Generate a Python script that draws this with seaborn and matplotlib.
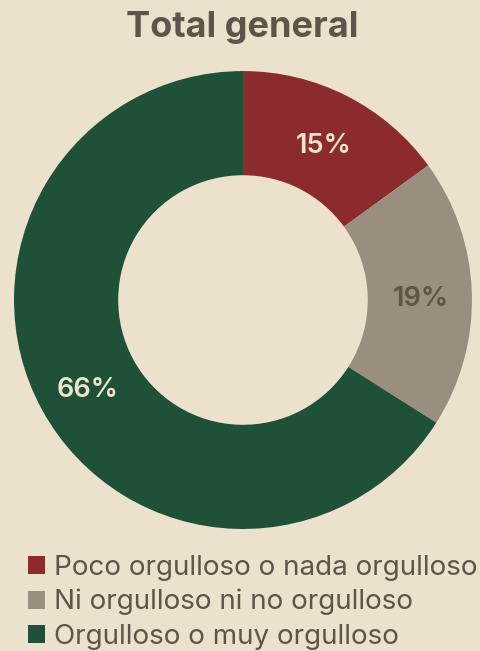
import matplotlib.pyplot as plt
import seaborn as sns
from matplotlib.patches import Patch

categories = ["Poco orgulloso o nada orgulloso", "Ni orgulloso ni no orgulloso", "Orgulloso o muy orgulloso"]
values = [15, 19, 66]
colors = ["#8B2B2E", "#9A8F7E", "#1F5138"]
label_colors = ["#EEE3CE", "#5E5548", "#EEE3CE"]

bg = "#ECE1CC"
text_color = "#5E5548"

sns.set_theme(style="white")
plt.rcParams['font.family'] = ['Inter', 'DejaVu Sans']

fig = plt.figure(figsize=(4.8, 6.51), dpi=100, facecolor=bg)
ax = fig.add_axes([0.0292, 0.1874, 0.954, 0.7035])
ax.set_facecolor(bg)

wedges, texts, autotexts = ax.pie(
    values, colors=colors, startangle=90, counterclock=False,
    radius=1, wedgeprops=dict(width=0.455, edgecolor="none"),
    autopct="%d%%", pctdistance=0.775,
)
for t, c in zip(autotexts, label_colors):
    t.set_color(c)
    t.set_fontsize(19.5)
    t.set_fontweight("semibold")
    x, y = t.get_position()
    t.set_position((x, y - 0.02))
ax.set_xlim(-1, 1)
ax.set_ylim(-1, 1)
ax.set_aspect("equal")
ax.axis("off")

fig.text(0.505, 0.958, "Total general", ha="center", va="center",
         fontsize=26, fontweight="bold", color=text_color)

handles = [Patch(facecolor=c, edgecolor="none") for c in colors]
leg = fig.legend(handles, categories, loc="upper left", bbox_to_anchor=(0.058, 0.148),
                 frameon=False, fontsize=20, labelcolor=text_color,
                 handlelength=0.62, handleheight=0.62, handletextpad=0.32,
                 labelspacing=0.3, borderpad=0, borderaxespad=0)

fig.savefig("out.png", dpi=100, facecolor=bg)
